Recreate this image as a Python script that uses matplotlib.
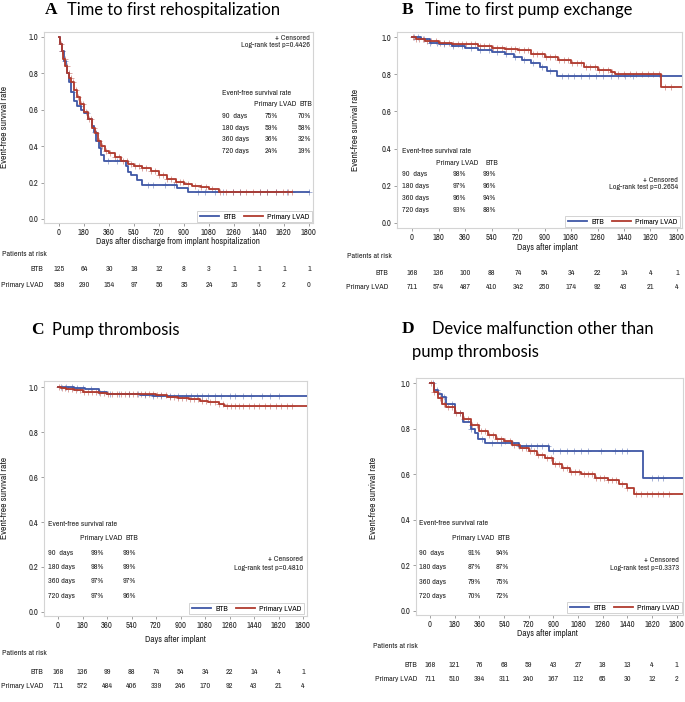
import numpy as np
import matplotlib
matplotlib.use("Agg")
import matplotlib.pyplot as plt
from matplotlib import transforms
from matplotlib.lines import Line2D
from matplotlib import font_manager as fm

# ---------------- data ----------------
tick_days = [0, 180, 360, 540, 720, 900, 1080, 1260, 1440, 1620, 1800]
rate_days = ["90  days", "180 days", "360 days", "720 days"]

# Panel A: time to first rehospitalization
A_lvad_t = [0, 10, 20, 30, 45, 60, 75, 90, 110, 130, 150, 180, 210, 240, 260, 280, 300, 330, 360, 400,
            450, 500, 540, 600, 660, 720, 780, 840, 900, 960, 1020, 1080, 1150, 1680]
A_lvad_s = [1.0, 0.96, 0.92, 0.88, 0.84, 0.80, 0.775, 0.75, 0.71, 0.67, 0.63, 0.59, 0.55, 0.50, 0.47,
            0.43, 0.40, 0.375, 0.36, 0.34, 0.32, 0.30, 0.29, 0.28, 0.265, 0.24, 0.22, 0.205, 0.19, 0.18,
            0.175, 0.165, 0.148, 0.148]
A_btb_t = [0, 10, 20, 35, 50, 60, 75, 90, 110, 130, 160, 180, 210, 240, 255, 270, 285, 300, 325, 480,
           500, 520, 560, 600, 850, 930, 1800]
A_btb_s = [1.0, 0.96, 0.92, 0.87, 0.84, 0.80, 0.75, 0.70, 0.65, 0.62, 0.60, 0.58, 0.55, 0.51, 0.48,
           0.43, 0.39, 0.35, 0.318, 0.29, 0.26, 0.24, 0.215, 0.185, 0.17, 0.148, 0.148]
A_lvad_cens = [15, 25, 40, 55, 70, 85, 100, 120, 140, 160, 175, 195, 215, 230, 250, 265, 290, 310, 340,
               370, 400, 430, 460, 490, 520, 550, 575, 600, 630, 660, 690, 720, 750, 780, 810, 840, 870,
               890, 930, 980, 1020, 1060, 1100, 1160, 1200, 1250, 1300, 1350, 1400, 1450, 1500, 1560,
               1610, 1650, 1680]
A_btb_cens = [20, 45, 100, 150, 200, 260, 350, 420, 640, 680, 760, 830, 1000, 1050, 1120, 1180, 1250,
              1300, 1450, 1500, 1560, 1640, 1800]

# Panel B: time to first pump exchange
B_lvad_t = [0, 30, 90, 180, 270, 360, 450, 540, 630, 720, 810, 900, 990, 1080, 1170, 1260, 1350, 1380,
            1690, 1840]
B_lvad_s = [1.0, 0.99, 0.98, 0.97, 0.962, 0.96, 0.95, 0.94, 0.935, 0.93, 0.91, 0.89, 0.875, 0.86, 0.84,
            0.82, 0.81, 0.80, 0.733, 0.733]
B_btb_t = [0, 60, 120, 180, 270, 360, 450, 540, 630, 690, 750, 810, 870, 920, 985, 1840]
B_btb_s = [1.0, 0.99, 0.97, 0.96, 0.95, 0.94, 0.93, 0.92, 0.91, 0.89, 0.875, 0.86, 0.84, 0.815, 0.79, 0.79]
B_lvad_cens = [10, 30, 50, 75, 100, 130, 160, 190, 220, 250, 280, 310, 340, 370, 400, 430, 460, 490, 520,
               550, 580, 610, 640, 670, 700, 730, 760, 790, 820, 850, 880, 910, 940, 970, 1000, 1030,
               1060, 1090, 1120, 1150, 1180, 1210, 1240, 1270, 1300, 1330, 1360, 1400, 1440, 1480, 1520,
               1560, 1600, 1640, 1680, 1720, 1760]
B_btb_cens = [15, 40, 80, 120, 170, 220, 280, 340, 400, 460, 520, 580, 640, 700, 760, 820, 880, 940, 1020,
              1060, 1100, 1150, 1200, 1250, 1300, 1350, 1400, 1450, 1500]

# Panel C: pump thrombosis
C_lvad_t = [0, 20, 60, 120, 180, 300, 360, 720, 800, 880, 960, 1040, 1100, 1180, 1220, 1840]
C_lvad_s = [1.0, 0.995, 0.99, 0.985, 0.98, 0.975, 0.97, 0.965, 0.958, 0.95, 0.945, 0.94, 0.935, 0.925,
            0.917, 0.917]
C_btb_t = [0, 120, 200, 300, 360, 600, 700, 1840]
C_btb_s = [1.0, 0.995, 0.99, 0.98, 0.97, 0.965, 0.96, 0.96]
C_lvad_cens = [10, 30, 50, 75, 100, 130, 160, 190, 220, 250, 280, 310, 340, 370, 400, 430, 460, 490, 520,
               550, 580, 610, 640, 670, 700, 730, 760, 790, 820, 850, 880, 910, 940, 970, 1000, 1030,
               1060, 1090, 1120, 1150, 1180, 1210, 1240, 1270, 1300, 1330, 1360, 1400, 1440, 1480, 1520,
               1560, 1600, 1640, 1680, 1720]
C_btb_cens = [20, 60, 100, 140, 180, 240, 300, 380, 450, 520, 590, 640, 700, 760, 820, 880, 940, 980,
              1020, 1060, 1100, 1150, 1200, 1260, 1300, 1360, 1420, 1500, 1560, 1620]

# Panel D: device malfunction other than pump thrombosis
D_lvad_t = [0, 30, 60, 90, 120, 180, 240, 300, 360, 420, 480, 540, 600, 660, 720, 780, 840, 900, 960,
            1020, 1100, 1200, 1300, 1380, 1440, 1490, 1850]
D_lvad_s = [1.0, 0.96, 0.935, 0.91, 0.895, 0.87, 0.84, 0.815, 0.79, 0.77, 0.755, 0.745, 0.73, 0.715,
            0.70, 0.685, 0.67, 0.645, 0.625, 0.61, 0.60, 0.585, 0.575, 0.555, 0.54, 0.515, 0.515]
D_btb_t = [0, 30, 60, 90, 120, 180, 240, 300, 330, 350, 400, 650, 870, 1550, 1850]
D_btb_s = [1.0, 0.97, 0.95, 0.94, 0.91, 0.87, 0.83, 0.80, 0.78, 0.755, 0.738, 0.725, 0.70, 0.582, 0.582]
D_lvad_cens = [10, 30, 50, 75, 100, 130, 160, 190, 220, 250, 280, 310, 340, 370, 400, 430, 460, 490, 520,
               550, 580, 610, 640, 670, 700, 730, 760, 790, 820, 850, 880, 910, 940, 970, 1000, 1030,
               1060, 1090, 1120, 1150, 1180, 1210, 1240, 1270, 1300, 1330, 1360, 1400, 1440, 1500, 1540,
               1580, 1620, 1660, 1700, 1740]
D_btb_cens = [20, 50, 100, 160, 220, 300, 380, 450, 520, 600, 650, 700, 740, 780, 820, 860, 900, 950,
              1000, 1050, 1100, 1150, 1250, 1350, 1400, 1440, 1620, 1660, 1700]

A_risk_btb = [125, 64, 30, 18, 12, 8, 3, 1, 1, 1, 1]
A_risk_lvad = [589, 290, 154, 97, 56, 35, 24, 15, 5, 2, 0]
B_risk_btb = [168, 136, 100, 88, 74, 54, 34, 22, 14, 4, 1]
B_risk_lvad = [711, 574, 487, 410, 342, 250, 174, 92, 43, 21, 4]
C_risk_btb = [168, 136, 99, 88, 74, 54, 34, 22, 14, 4, 1]
C_risk_lvad = [711, 572, 484, 406, 339, 246, 170, 92, 43, 21, 4]
D_risk_btb = [168, 121, 76, 68, 59, 43, 27, 18, 13, 4, 1]
D_risk_lvad = [711, 510, 394, 311, 240, 167, 112, 65, 30, 12, 2]

A_rate_lvad = ["75%", "59%", "36%", "24%"]
A_rate_btb = ["70%", "58%", "32%", "19%"]
B_rate_lvad = ["98%", "97%", "96%", "93%"]
B_rate_btb = ["99%", "96%", "94%", "88%"]
C_rate_lvad = ["99%", "98%", "97%", "97%"]
C_rate_btb = ["99%", "99%", "97%", "96%"]
D_rate_lvad = ["91%", "87%", "79%", "70%"]
D_rate_btb = ["94%", "87%", "75%", "72%"]

pvals = {"A": "0.4426", "B": "0.2654", "C": "0.4810", "D": "0.3373"}

# ---------------- style ----------------
BLUE = "#3F57A6"
RED = "#B03A2E"
names = sorted({f.name for f in fm.fontManager.ttflist})
narrow = [n for n in names if ("Narrow" in n or "Condensed" in n) and "Serif" not in n]
if narrow:
    SAS = narrow[0]
    FS = 5.8
else:
    SAS = "DejaVu Sans"
    FS = 4.8
TITLE = "Lato" if "Lato" in names else "DejaVu Sans"

W, H = 685, 702
fig = plt.figure(figsize=(W / 100, H / 100), dpi=100)


def fx(px):
    return px / W


def fy(py):
    return 1 - py / H


def ptext(px, py, s, **kw):
    kw.setdefault("fontsize", FS)
    kw.setdefault("family", SAS)
    kw.setdefault("va", "center")
    kw.setdefault("color", "#222222")
    fig.text(fx(px), fy(py), s, **kw)


def make_panel(box, xlim, ylim):
    l, t, r, b = box
    ax = fig.add_axes([fx(l), fy(b), (r - l) / W, (b - t) / H])
    ax.set_xlim(*xlim)
    ax.set_ylim(*ylim)
    for sp in ax.spines.values():
        sp.set_color("#d4d4d4")
        sp.set_linewidth(0.8)
    ax.set_xticks(tick_days)
    ax.set_yticks([0, 0.2, 0.4, 0.6, 0.8, 1.0])
    ax.set_yticklabels(["0.0", "0.2", "0.4", "0.6", "0.8", "1.0"])
    ax.tick_params(length=2.2, width=0.6, color="#909090", labelsize=FS + 0.3, pad=1.5,
                   labelcolor="#222222")
    for lab in ax.get_xticklabels() + ax.get_yticklabels():
        lab.set_family(SAS)
    return ax


def km(ax, t, s, cens, color):
    t = np.asarray(t, float)
    s = np.asarray(s, float)
    ax.step(t, s, where="post", color=color, lw=1.3, zorder=3)
    c = np.asarray(cens, float)
    idx = np.searchsorted(t, c, side="right") - 1
    ax.plot(c, s[idx], ls="none", marker="+", ms=4, mew=0.7, color=color, alpha=0.45, zorder=2)


def legend(ax, right_px, bottom_px):
    handles = [Line2D([], [], color=BLUE, lw=1.3), Line2D([], [], color=RED, lw=1.3)]
    lg = ax.legend(handles, ["BTB", "Primary LVAD"], ncol=2, loc="lower right",
                   bbox_to_anchor=(fx(right_px), fy(bottom_px)), bbox_transform=fig.transFigure,
                   prop={"family": SAS, "size": FS}, frameon=True, fancybox=False,
                   handlelength=2.4, handletextpad=0.5, columnspacing=1.0, borderpad=0.3,
                   borderaxespad=0)
    lg.get_frame().set_edgecolor("#c8c8c8")
    lg.get_frame().set_linewidth(0.7)


def risk_rows(ax, label_right_px, head_px, head_y, btb_y, lvad_y, btb, lvad):
    ptext(head_px, head_y, "Patients at risk")
    ptext(label_right_px, btb_y, "BTB", ha="right")
    ptext(label_right_px, lvad_y, "Primary LVAD", ha="right")
    tr = transforms.blended_transform_factory(ax.transData, fig.transFigure)
    for d, b, p in zip(tick_days, btb, lvad):
        ax.text(d, fy(btb_y), str(b), transform=tr, ha="center", va="center", fontsize=FS,
                family=SAS, color="#222222", clip_on=False)
        ax.text(d, fy(lvad_y), str(p), transform=tr, ha="center", va="center", fontsize=FS,
                family=SAS, color="#222222", clip_on=False)


def rate_table(x0, y0, prim_right, btb_right, prim_head_x, btb_head_x, rows_y, prim, btb):
    ptext(x0, y0, "Event-free survival rate")
    ptext(prim_head_x, rows_y[0], "Primary LVAD")
    ptext(btb_head_x, rows_y[0], "BTB")
    for lab, yy, p, b in zip(rate_days, rows_y[1:], prim, btb):
        ptext(x0, yy, lab)
        ptext(prim_right, yy, p, ha="right")
        ptext(btb_right, yy, b, ha="right")


def title(letter_x, text_x, y, letter, text):
    ptext(letter_x, y, letter, family="Liberation Serif", fontweight="bold", fontsize=12.5,
          color="black")
    ptext(text_x, y, text, family=TITLE, fontsize=11.9, color="black")


XL = FS + 0.8
YL = FS + 1.1

# ---------------- Panel A ----------------
axA = make_panel((44, 32, 313, 223), (-108, 1829), (-0.022, 1.027))
km(axA, A_btb_t, A_btb_s, A_btb_cens, BLUE)
km(axA, A_lvad_t, A_lvad_s, A_lvad_cens, RED)
legend(axA, 312, 222)
ptext(310, 38, "+ Censored", ha="right")
ptext(310, 45, "Log-rank test p=" + pvals["A"], ha="right")
rate_table(222, 93, 278, 311, 254, 300, [104, 116, 128, 139, 151], A_rate_lvad, A_rate_btb)
ptext(178, 242, "Days after discharge from implant hospitalization", ha="center", fontsize=XL)
ptext(5, 127, "Event-free survival rate", rotation=90, ha="center", fontsize=YL)
risk_rows(axA, 43, 2, 254, 269, 285, A_risk_btb, A_risk_lvad)
title(45, 67, 10, "A", "Time to first rehospitalization")

# ---------------- Panel B ----------------
axB = make_panel((397, 32, 682, 228), (-102, 1834), (-0.027, 1.027))
km(axB, B_btb_t, B_btb_s, B_btb_cens, BLUE)
km(axB, B_lvad_t, B_lvad_s, B_lvad_cens, RED)
legend(axB, 680, 227)
ptext(678, 180, "+ Censored", ha="right")
ptext(678, 187, "Log-rank test p=" + pvals["B"], ha="right")
rate_table(402, 151, 466, 496, 436, 485, [163, 174, 186, 198, 210], B_rate_lvad, B_rate_btb)
ptext(547, 247, "Days after implant", ha="center", fontsize=XL)
ptext(355, 130, "Event-free survival rate", rotation=90, ha="center", fontsize=YL)
risk_rows(axB, 388, 347, 256, 273, 287, B_risk_btb, B_risk_lvad)
title(402, 425, 10, "B", "Time to first pump exchange")

# ---------------- Panel C ----------------
axC = make_panel((44, 381, 307, 616), (-103, 1829), (-0.018, 1.027))
km(axC, C_btb_t, C_btb_s, C_btb_cens, BLUE)
km(axC, C_lvad_t, C_lvad_s, C_lvad_cens, RED)
legend(axC, 304, 614)
ptext(303, 559, "+ Censored", ha="right")
ptext(303, 568, "Log-rank test p=" + pvals["C"], ha="right")
rate_table(48, 524, 104, 136, 80, 125, [538, 553, 567, 581, 596], C_rate_lvad, C_rate_btb)
ptext(175, 639, "Days after implant", ha="center", fontsize=XL)
ptext(5, 498, "Event-free survival rate", rotation=90, ha="center", fontsize=YL)
risk_rows(axC, 43, 2, 653, 672, 686, C_risk_btb, C_risk_lvad)
title(31, 52, 330, "C", "Pump thrombosis")

# ---------------- Panel D ----------------
axD = make_panel((416, 378, 683, 615), (-102, 1845), (-0.018, 1.022))
km(axD, D_btb_t, D_btb_s, D_btb_cens, BLUE)
km(axD, D_lvad_t, D_lvad_s, D_lvad_cens, RED)
legend(axD, 682, 613)
ptext(679, 560, "+ Censored", ha="right")
ptext(679, 568, "Log-rank test p=" + pvals["D"], ha="right")
rate_table(419, 523, 481, 509, 452, 498, [538, 553, 567, 582, 596], D_rate_lvad, D_rate_btb)
ptext(547, 634, "Days after implant", ha="center", fontsize=XL)
ptext(373, 498, "Event-free survival rate", rotation=90, ha="center", fontsize=YL)
risk_rows(axD, 417, 373, 646, 665, 679, D_risk_btb, D_risk_lvad)
title(402, 432, 329, "D", "Device malfunction other than")
ptext(412, 352, "pump thrombosis", family=TITLE, fontsize=11.9, color="black")

fig.savefig("out.png", dpi=100)
